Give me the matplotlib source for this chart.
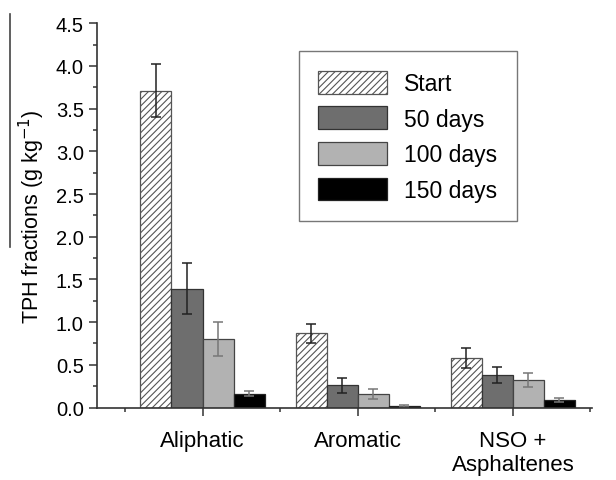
import matplotlib
matplotlib.use('Agg')
import matplotlib.pyplot as plt
from matplotlib.lines import Line2D
import numpy as np

plt.rcParams['font.family'] = ['Liberation Sans', 'DejaVu Sans']
plt.rcParams['hatch.linewidth'] = 0.8

# data
categories = ['Aliphatic', 'Aromatic', 'NSO +\nAsphaltenes']
series = ['Start', '50 days', '100 days', '150 days']
start = [3.71, 0.87, 0.58]
start_err = [0.31, 0.11, 0.12]
d50 = [1.39, 0.26, 0.38]
d50_err = [0.30, 0.09, 0.09]
d100 = [0.80, 0.16, 0.32]
d100_err = [0.20, 0.06, 0.08]
d150 = [0.16, 0.02, 0.09]
d150_err = [0.03, 0.01, 0.02]

values = [start, d50, d100, d150]
errors = [start_err, d50_err, d100_err, d150_err]
fills = ['white', '#6e6e6e', '#b2b2b2', 'black']
hatches = ['/////', None, None, None]
edges = ['#555555', '#333333', '#444444', '#222222']
err_colors = ['#222222', '#222222', '#777777', '#777777']

fig = plt.figure(figsize=(6.16, 4.81), dpi=100)
ax = fig.add_axes([97/616, 1 - 408.5/481, (592-97)/616, (408.5-24.3)/481])

x = np.arange(1, len(categories) + 1)
w = 0.2
offsets = [-0.3, -0.1, 0.1, 0.3]
for i in range(4):
    ax.bar(x + offsets[i], values[i], w, color=fills[i], edgecolor=edges[i],
           hatch=hatches[i], linewidth=0.9, label=series[i])
    ax.errorbar(x + offsets[i], values[i], yerr=errors[i], fmt='none',
                ecolor=err_colors[i], elinewidth=1.1, capsize=3.5, capthick=1.1)

ax.set_xlim(0.32, 3.51)
ax.set_ylim(0, 4.5)
ax.set_xticks(x)
ax.set_xticklabels(categories, fontsize=16)
ax.set_xticks([0.5, 1.5, 2.5, 3.5], minor=True)
yt = np.arange(0, 4.51, 0.5)
ax.set_yticks(yt)
ax.set_yticklabels(['%.1f' % v for v in yt], fontsize=14.5)
ax.set_yticks(np.arange(0.25, 4.5, 0.5), minor=True)
ax.tick_params(which='major', length=6, width=1.1, color='#333333', direction='out')
ax.tick_params(which='minor', length=3, width=1.1, color='#333333', direction='out')
ax.tick_params(axis='x', which='major', pad=10)

for s in ['top', 'right']:
    ax.spines[s].set_visible(False)
for s in ['left', 'bottom']:
    ax.spines[s].set_color('#333333')
    ax.spines[s].set_linewidth(1.2)

ax.set_ylabel('TPH fractions (g kg$^{-1}$)', fontsize=15.5, labelpad=6)

leg = ax.legend(loc='upper left', bbox_to_anchor=(0.408, 0.927), borderaxespad=0,
                fontsize=16.5, fancybox=False, edgecolor='#555555',
                handlelength=3.0, handleheight=1.15, labelspacing=0.5,
                handletextpad=0.75, borderpad=0.85)
leg.get_frame().set_linewidth(1.0)

# stray vertical rule left of the y label in the original
fig.add_artist(Line2D([10/616, 10/616], [1 - 15/481, 1 - 248/481],
                      transform=fig.transFigure, color='#444444', linewidth=1.2))

fig.savefig('out.png', dpi=100)
